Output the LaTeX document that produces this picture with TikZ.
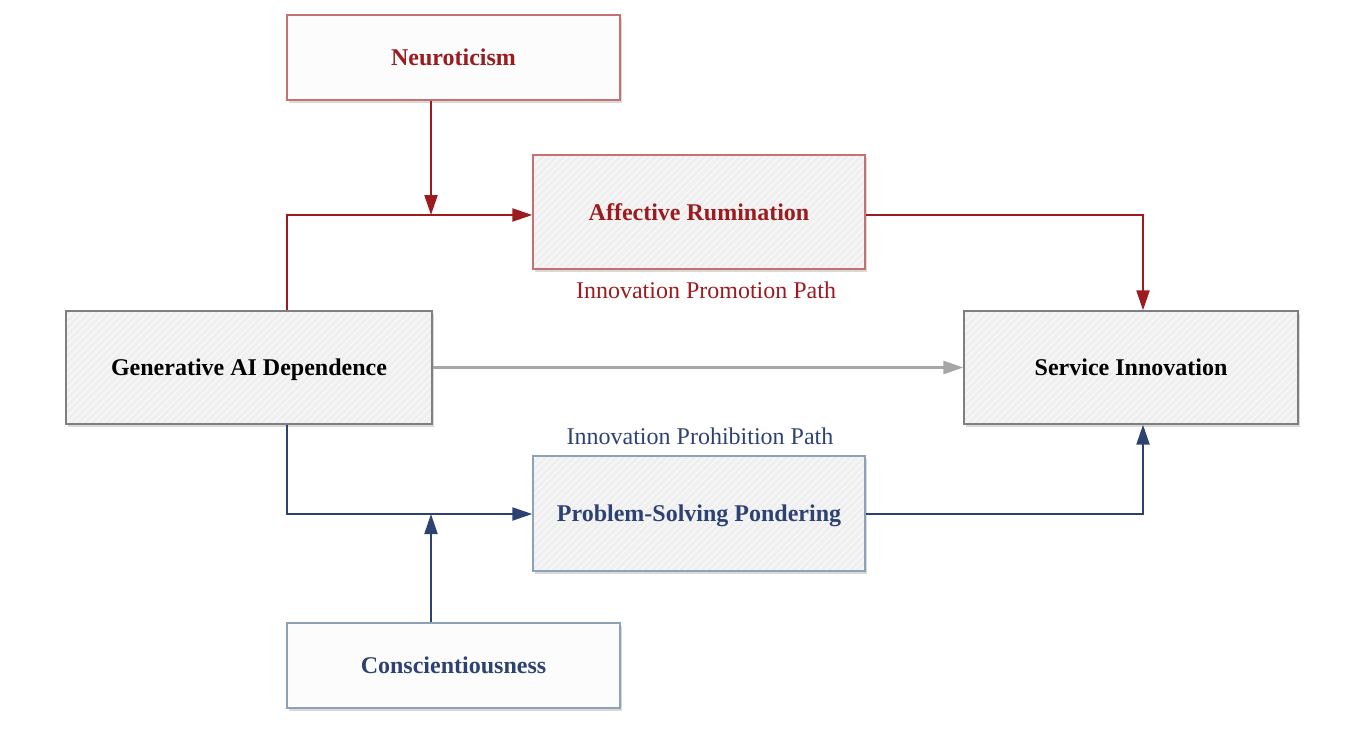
\documentclass[tikz,border=0pt]{standalone}
\usepackage{fontspec}
\setmainfont{Liberation Serif}
\usetikzlibrary{arrows.meta,shadows,patterns.meta}
\definecolor{dred}{HTML}{9B1B1E}
\definecolor{dblue}{HTML}{2E4272}
\definecolor{redline}{HTML}{C47173}
\definecolor{blueline}{HTML}{8EA2B6}
\definecolor{grayline}{HTML}{7F7F7F}
\definecolor{boxfill}{HTML}{EFEFEF}
\definecolor{lightfill}{HTML}{FCFCFC}
\definecolor{arrgray}{HTML}{A6A6A6}
\tikzset{
  box/.style={line width=1.4pt, inner sep=0pt, font=\fontsize{24}{28}\selectfont\bfseries,
    drop shadow={shadow xshift=2pt, shadow yshift=-3pt, opacity=0.25, fill=black!60},
    preaction={fill=#1},
    preaction={pattern={Lines[angle=45,distance=5pt,line width=1.6pt]}, pattern color=white, opacity=0.5},
    text depth=-3pt},
  redbox/.style={box=#1, draw=redline, text=dred},
  bluebox/.style={box=#1, draw=blueline, text=dblue},
  graybox/.style={box=#1, draw=grayline, text=black},
  arr/.style={line width=2.2pt, -{Triangle[length=20pt,width=13pt]}},
  redarr/.style={arr, draw=dred},
  bluearr/.style={arr, draw=dblue},
  grayarr/.style={arr, draw=arrgray, line width=2.6pt},
  pathlabel/.style={font=\fontsize{24}{28}\selectfont}
}
\begin{document}
\begin{tikzpicture}[x=1pt,y=-1pt]
\useasboundingbox (0,0) rectangle (1346,731);
\node[redbox=lightfill, minimum width=333pt, minimum height=85pt] (neu) at (453.5,57.5) {Neuroticism};
\node[redbox=boxfill, minimum width=332pt, minimum height=114pt] (ar) at (699,212) {Affective Rumination};
\node[graybox=boxfill, minimum width=366pt, minimum height=113pt] (gai) at (249,367.5) {Generative AI Dependence};
\node[graybox=boxfill, minimum width=334pt, minimum height=113pt] (si) at (1131,367.5) {Service Innovation};
\node[bluebox=boxfill, minimum width=332pt, minimum height=115pt] (psp) at (699,513.5) {Problem-Solving Pondering};
\node[bluebox=lightfill, minimum width=333pt, minimum height=85pt] (con) at (453.5,665.5) {Conscientiousness};
\node[pathlabel, text=dred] (lp) at (706,290) {Innovation Promotion Path};
\node[pathlabel, text=dblue] (lh) at (700,436) {Innovation Prohibition Path};
\coordinate (jr) at (431,215);
\coordinate (jb) at (431,514);
% red paths
\draw[redarr] (gai.north -| 287,0) |- (ar.west |- jr);
\draw[redarr] (neu.south -| jr) -- (jr);
\draw[redarr] (ar.east |- jr) -| (si.north -| 1143,0);
% gray
\draw[grayarr] (gai.east) -- (si.west);
% blue paths
\draw[bluearr] (gai.south -| 287,0) |- (psp.west |- jb);
\draw[bluearr] (con.north -| jb) -- (jb);
\draw[bluearr] (psp.east |- jb) -| (si.south -| 1143,0);
\end{tikzpicture}
\end{document}
